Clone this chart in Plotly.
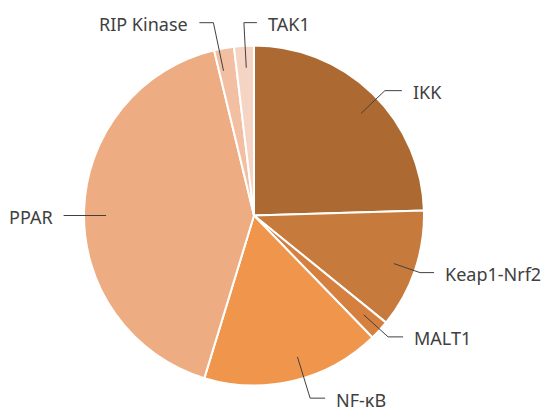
import math
import plotly.graph_objects as go

categories = ["IKK", "Keap1-Nrf2", "MALT1", "NF-κB", "PPAR", "RIP Kinase", "TAK1"]
values = [13, 6, 1, 9, 22, 1, 1]
colors = ["#AC6A32", "#C67A3C", "#D5803F", "#EF964C", "#EEAC82", "#F3BFA2", "#F6D4C4"]

W, H = 543, 408
# pie box in pixels
cx, cy, R = 254, 215.5, 170
dom_x = [(cx - R) / W, (cx + R) / W]
dom_y = [1 - (cy + R) / H, 1 - (cy - R) / H]

# leader-line styling: (elbow radius factor, angle shift deg, horizontal direction, segment length)
leader = {
    "IKK": (1.064, 2.2, 1, 17),
    "Keap1-Nrf2": (1.033, 0.3, 1, 14),
    "MALT1": (1.064, -0.3, 1, 15),
    "NF-κB": (1.124, -3.5, 1, 15),
    "PPAR": (1.12, -1.7, -1, 0),
    "RIP Kinase": (1.159, -1.7, -1, 14),
    "TAK1": (1.136, 0.4, 1, 13),
}

fig = go.Figure(go.Pie(
    labels=categories, values=values, sort=False, direction="clockwise", rotation=0,
    marker=dict(colors=colors, line=dict(color="white", width=2)),
    textinfo="none", hoverinfo="label+value", domain=dict(x=dom_x, y=dom_y),
    showlegend=False,
))

def px(x, y):
    return x / W, 1 - y / H

total = sum(values)
cum = 0
shapes, annotations = [], []
for cat, v in zip(categories, values):
    f, shift, d, seg = leader[cat]
    mid = (cum + v / 2) / total * 2 * math.pi + math.radians(shift)
    cum += v
    x0, y0 = cx + 0.87 * R * math.sin(mid), cy - 0.87 * R * math.cos(mid)
    x1, y1 = cx + f * R * math.sin(mid), cy - f * R * math.cos(mid)
    if seg == 0:
        y1 = y0
    x2 = x1 + d * seg
    path = "M {} {} L {} {} L {} {}".format(*px(x0, y0), *px(x1, y1), *px(x2, y1))
    shapes.append(dict(type="path", xref="paper", yref="paper", path=path,
                       line=dict(color="#404040", width=1)))
    tx, ty = px(x2 + d * 9, y1 + 1.5)
    annotations.append(dict(x=tx, y=ty, xref="paper", yref="paper", text=cat, showarrow=False,
                            xanchor="left" if d > 0 else "right", yanchor="middle",
                            font=dict(family="Noto Sans", size=18, color="#404040")))

fig.update_layout(width=W, height=H, margin=dict(l=0, r=0, t=0, b=0),
                  paper_bgcolor="white", plot_bgcolor="white",
                  shapes=shapes, annotations=annotations)
fig.write_html("out.html", config={"displayModeBar": False},
               post_script="document.body.style.margin='0';")
